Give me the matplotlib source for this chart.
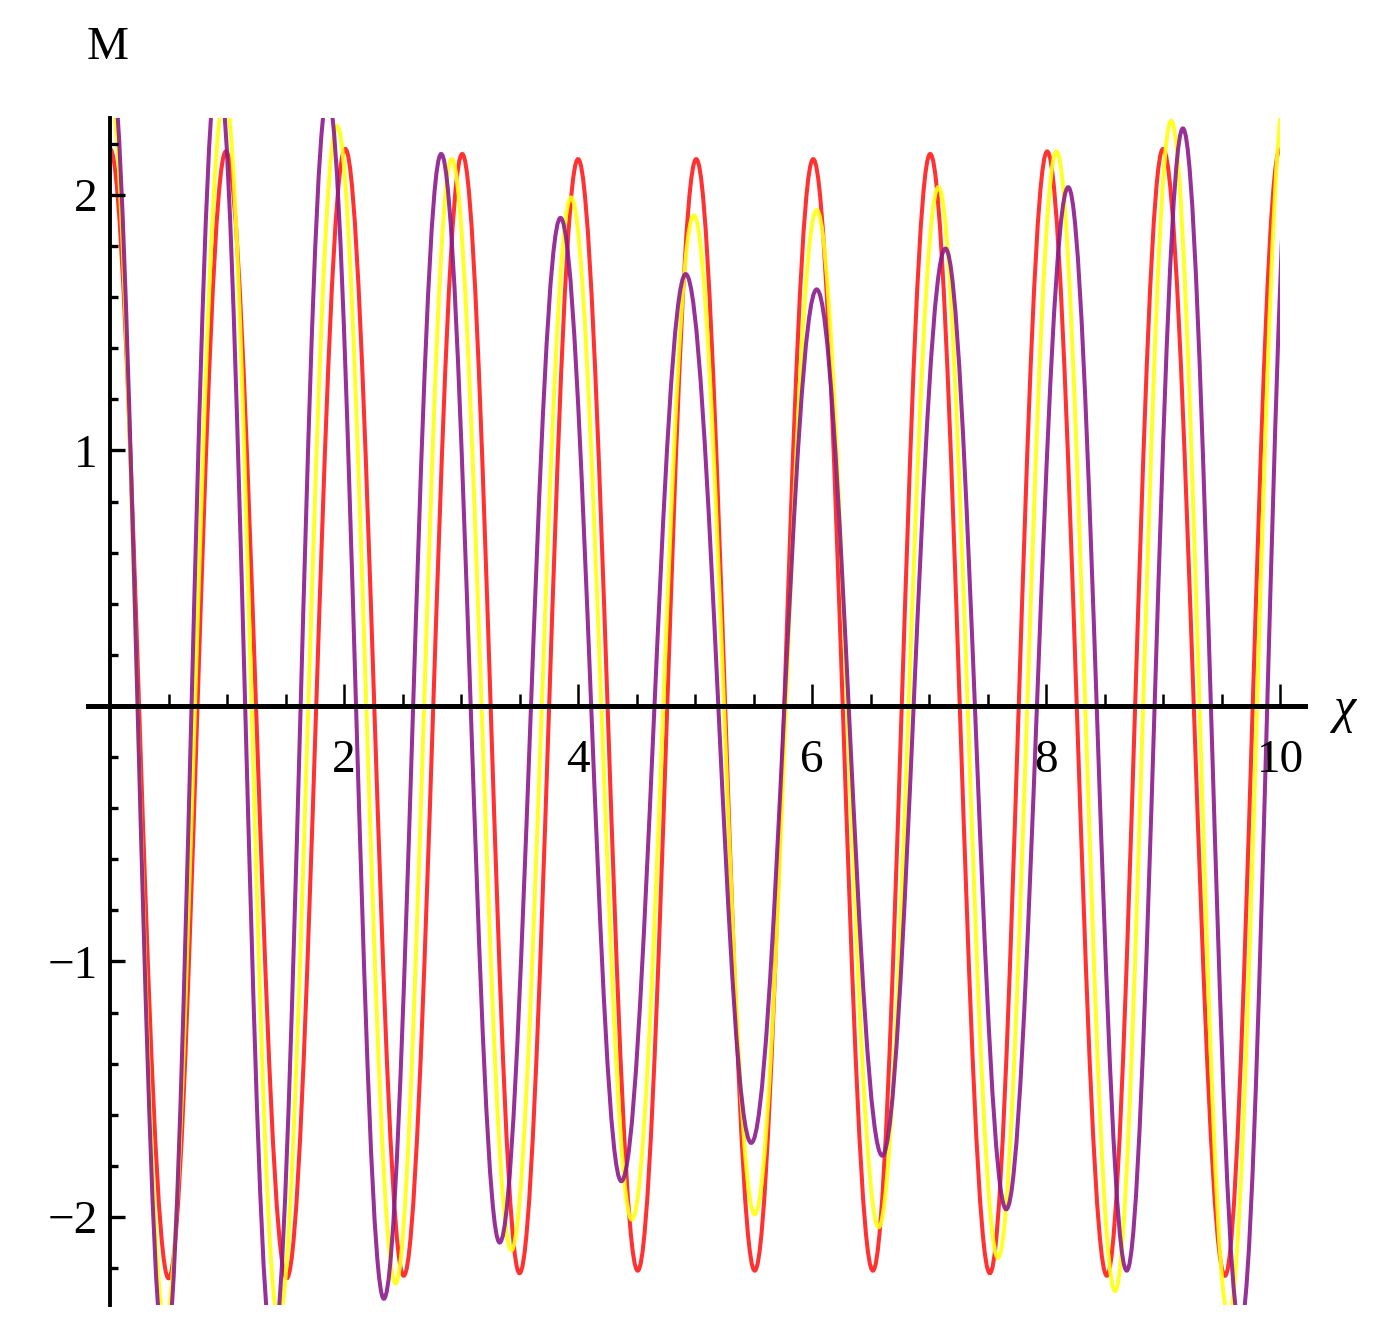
import matplotlib
matplotlib.use("Agg")
import matplotlib.pyplot as plt
from matplotlib.path import Path
from matplotlib.patches import PathPatch, Rectangle
from matplotlib.ticker import FixedLocator, NullFormatter, FixedFormatter

# extrema (peaks / troughs), alternating
RED_X = [0.00, 0.50, 0.99, 1.51, 2.01, 2.51, 3.01, 3.50, 4.00, 4.51, 5.01,
         5.51, 6.01, 6.52, 7.01, 7.52, 8.01, 8.52, 9.00, 9.53, 10.00]
RED_Y = [2.18, -2.24, 2.17, -2.24, 2.18, -2.23, 2.16, -2.22, 2.14, -2.21, 2.14,
         -2.21, 2.14, -2.21, 2.16, -2.22, 2.17, -2.23, 2.18, -2.23, 2.18]

YELLOW_X = [0.00, 0.47, 0.98, 1.44, 1.94, 2.44, 2.92, 3.43, 3.94, 4.46, 4.99,
            5.51, 6.04, 6.57, 7.08, 7.59, 8.09, 8.59, 9.07, 9.56, 10.05]
YELLOW_Y = [2.40, -2.41, 2.39, -2.40, 2.27, -2.26, 2.14, -2.13, 1.99, -2.01, 1.92,
            -1.99, 1.94, -2.04, 2.03, -2.16, 2.17, -2.29, 2.29, -2.39, 2.42]

PURPLE_X = [0.00, 0.47, 0.92, 1.39, 1.86, 2.34, 2.83, 3.33, 3.85, 4.37, 4.92,
            5.48, 6.04, 6.60, 7.14, 7.66, 8.19, 8.69, 9.17, 9.66, 10.12]
PURPLE_Y = [2.55, -2.56, 2.51, -2.52, 2.39, -2.32, 2.16, -2.10, 1.91, -1.86, 1.69,
            -1.71, 1.63, -1.76, 1.79, -1.97, 2.03, -2.21, 2.26, -2.43, 2.40]

X_MAJOR = [2, 4, 6, 8, 10]
X_MAJOR_LABELS = ["2", "4", "6", "8", "10"]
X_MINOR = [0.5, 1, 1.5, 2.5, 3, 3.5, 4.5, 5, 5.5, 6.5, 7, 7.5, 8.5, 9, 9.5]
Y_MAJOR = [-2, -1, 1, 2]
Y_MAJOR_LABELS = ["\u22122", "\u22121", "1", "2"]
Y_MINOR = [-2.2, -1.8, -1.6, -1.4, -1.2, -0.8, -0.6, -0.4, -0.2,
           0.2, 0.4, 0.6, 0.8, 1.2, 1.4, 1.6, 1.8, 2.2]

XLIM = (-0.19, 10.21)
YLIM = (-2.345, 2.302)
SERIF = "Liberation Serif"


def wave_path(xs, ys, k=0.3634):
    # cubic bezier between consecutive extrema, flat tangents at each extremum
    verts = [(xs[0], ys[0])]
    codes = [Path.MOVETO]
    for x0, y0, x1, y1 in zip(xs[:-1], ys[:-1], xs[1:], ys[1:]):
        w = x1 - x0
        verts += [(x0 + k * w, y0), (x1 - k * w, y1), (x1, y1)]
        codes += [Path.CURVE4] * 3
    return Path(verts, codes)


def main():
    fig = plt.figure(figsize=(13.77, 13.28), dpi=100)
    ax = fig.add_axes([0.0638, 0.01724, 0.8836, 0.8941])
    ax.set_xlim(*XLIM)
    ax.set_ylim(*YLIM)

    clip = Rectangle((0, YLIM[0]), 10, YLIM[1] - YLIM[0], transform=ax.transData)
    for xs, ys, color in [(RED_X, RED_Y, "#ff1a1a"),
                          (YELLOW_X, YELLOW_Y, "#ffff10"),
                          (PURPLE_X, PURPLE_Y, "#8c1a8c")]:
        patch = PathPatch(wave_path(xs, ys), fill=False, edgecolor=color,
                          lw=2.9, capstyle="butt", alpha=0.9)
        ax.add_patch(patch)
        patch.set_clip_path(clip)

    for side in ["top", "right"]:
        ax.spines[side].set_visible(False)
    ax.spines["left"].set_position(("data", 0))
    ax.spines["bottom"].set_position(("data", 0))
    ax.spines["left"].set_linewidth(2.8)
    ax.spines["bottom"].set_linewidth(3.6)
    ax.spines["left"].set_zorder(5)
    ax.spines["bottom"].set_zorder(5)

    ax.xaxis.set_major_locator(FixedLocator(X_MAJOR))
    ax.xaxis.set_major_formatter(FixedFormatter(X_MAJOR_LABELS))
    ax.xaxis.set_minor_locator(FixedLocator(X_MINOR))
    ax.xaxis.set_minor_formatter(NullFormatter())
    ax.yaxis.set_major_locator(FixedLocator(Y_MAJOR))
    ax.yaxis.set_major_formatter(FixedFormatter(Y_MAJOR_LABELS))
    ax.yaxis.set_minor_locator(FixedLocator(Y_MINOR))
    ax.yaxis.set_minor_formatter(NullFormatter())

    ax.tick_params(axis="x", which="major", direction="in", length=16, width=1.8,
                   pad=24, labelsize=34)
    ax.tick_params(axis="x", which="minor", direction="in", length=9, width=1.8)
    ax.tick_params(axis="y", which="major", direction="in", length=11, width=2.4,
                   pad=9, labelsize=34)
    ax.tick_params(axis="y", which="minor", direction="in", length=6, width=2.4)
    for lab in ax.get_xticklabels() + ax.get_yticklabels():
        lab.set_fontfamily(SERIF)

    fig.text(108 / 1377, 1 - 48 / 1328, "M", family=SERIF, fontsize=34,
             ha="center", va="center")
    fig.text(1345 / 1377, 1 - 710 / 1328, "\u03c7", family=SERIF, fontsize=36,
             style="italic", ha="center", va="center")

    fig.savefig("out.png", dpi=100, facecolor="white")
    plt.close(fig)


if __name__ == "__main__":
    main()
